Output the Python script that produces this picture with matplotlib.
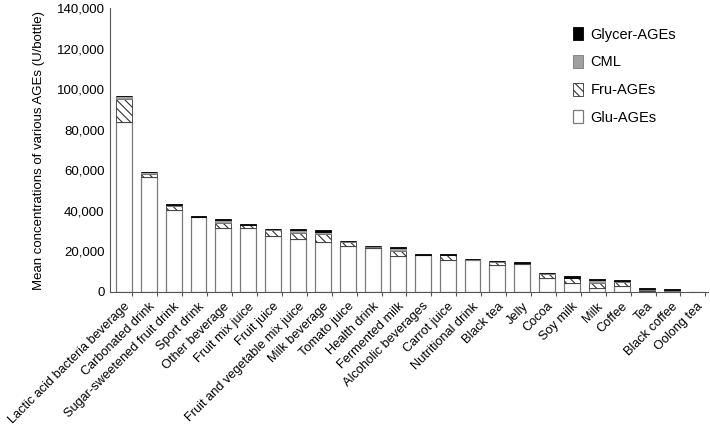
import matplotlib.pyplot as plt
import numpy as np

plt.rcParams['font.family'] = ['Liberation Sans', 'DejaVu Sans']
plt.rcParams['hatch.linewidth'] = 0.8

categories = ['Lactic acid bacteria beverage', 'Carbonated drink', 'Sugar-sweetened fruit drink',
              'Sport drink', 'Other beverage', 'Fruit mix juice', 'Fruit juice',
              'Fruit and vegetable mix juice', 'Milk beverage', 'Tomato juice', 'Health drink',
              'Fermented milk', 'Alcoholic beverages', 'Carrot juice', 'Nutritional drink',
              'Black tea', 'Jelly', 'Cocoa', 'Soy milk', 'Milk', 'Coffee', 'Tea',
              'Black coffee', 'Oolong tea']

# values in U/bottle
glu = [84000, 56800, 40200, 36900, 31500, 31500, 27600, 26000, 24700, 22900, 21700, 17800,
       18000, 15700, 15900, 13400, 13700, 7000, 4400, 2200, 2800, 300, 200, 50]
fru = [11000, 1500, 2300, 100, 2300, 1400, 3000, 2900, 3900, 1900, 600, 2300,
       100, 2300, 100, 1600, 400, 1900, 2400, 2400, 2100, 500, 400, 0]
cml = [1500, 700, 500, 100, 1800, 300, 300, 1700, 800, 200, 200, 1700,
       100, 300, 100, 200, 200, 300, 200, 1100, 400, 500, 300, 0]
glycer = [300, 300, 200, 200, 300, 300, 200, 500, 1200, 200, 400, 600,
          400, 200, 300, 300, 700, 300, 700, 500, 400, 700, 600, 50]

fig = plt.figure(figsize=(7.1, 4.25), dpi=100)
ax = fig.add_axes([0.155, 0.313, 0.842, 0.668])

x = np.arange(len(categories))
w = 0.64
edge = '#7a7a7a'
glu = np.array(glu); fru = np.array(fru); cml = np.array(cml); glycer = np.array(glycer)

ax.bar(x, glu, w, color='white', edgecolor=edge, linewidth=0.9, label='Glu-AGEs')
ax.bar(x, fru, w, bottom=glu, color='white', edgecolor='#333333', hatch='\\\\\\\\',
       linewidth=0.6, label='Fru-AGEs')
ax.bar(x, cml, w, bottom=glu + fru, color='#a0a0a0', edgecolor=edge, linewidth=0.6, label='CML')
ax.bar(x, glycer, w, bottom=glu + fru + cml, color='black', edgecolor='black', linewidth=0.6,
       label='Glycer-AGEs')

ax.set_xlim(-0.55, 23.45)
ax.set_ylim(0, 140000)
ax.set_yticks(np.arange(0, 140001, 20000))
ax.set_yticklabels([f'{v:,}' for v in range(0, 140001, 20000)], fontsize=9.5)
ax.set_xticks(x)
ax.set_xticklabels(categories, rotation=45, ha='right', rotation_mode='anchor', fontsize=9.2)
ax.set_xticks(x + 0.35, minor=True)
ax.tick_params(axis='x', which='major', length=0, pad=6)
ax.tick_params(axis='x', which='minor', length=3, width=0.8, color='#555555')
ax.tick_params(axis='y', length=0, pad=4)
ax.set_ylabel('Mean concentrations of various AGEs (U/bottle)', fontsize=9.5, labelpad=8)

for s in ['top', 'right']:
    ax.spines[s].set_visible(False)
for s in ['left', 'bottom']:
    ax.spines[s].set_color('#555555')

h, l = ax.get_legend_handles_labels()
ax.legend(h[::-1], l[::-1], loc='upper left', bbox_to_anchor=(0.765, 0.953), frameon=False,
          fontsize=10.5, handlelength=0.7, handleheight=1.0, labelspacing=0.9, handletextpad=0.5,
          borderaxespad=0)

fig.savefig('out.png', dpi=100)
